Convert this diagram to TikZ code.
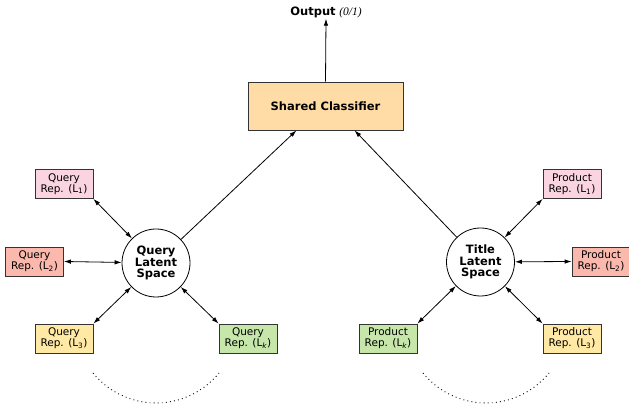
\documentclass[tikz,border=0pt]{standalone}
\usepackage{fontspec}
\setmainfont{DejaVu Sans}
\newfontfamily\outfont{Liberation Serif}
\usetikzlibrary{arrows.meta}
\definecolor{repone}{HTML}{FAD4E0}
\definecolor{reptwo}{HTML}{FBB8AC}
\definecolor{repthree}{HTML}{FFE9A5}
\definecolor{repk}{HTML}{C6E6AA}
\definecolor{clforange}{HTML}{FFDCA5}
\colorlet{boxline}{black!80}

\begin{document}
\begin{tikzpicture}[x=1pt,y=1pt,
    tip/.style={-{Latex[length=7pt,width=4.5pt]}},
    dtip/.style={{Latex[length=7pt,width=4.5pt]}-{Latex[length=7pt,width=4.5pt]}},
    repbox/.style={draw=boxline, line width=0.8pt, minimum width=58pt, minimum height=29pt,
        inner sep=0pt, align=center, font=\fontsize{10.5}{11}\selectfont},
    space/.style={draw, circle, line width=0.8pt, minimum size=68pt, inner sep=0pt,
        align=center, font=\fontsize{11.5}{11.5}\selectfont\bfseries}]
    \useasboundingbox (0,0) rectangle (629,407);
    % classifier and output
    \node[draw=boxline, fill=clforange, line width=0.8pt, minimum width=155pt, minimum height=48pt,
        font=\fontsize{11.5}{12}\selectfont\bfseries] (clf) at (325.5,301) {Shared Classifier};
    \node[inner sep=1pt, font=\fontsize{11.5}{12}\selectfont] (out) at (326,395)
        {\textbf{Output} {\outfont\itshape (0/1)}};
    \draw[tip, line width=0.8pt] (clf.north) -- (out.south);
    % latent spaces
    \node[space] (qls) at (156,144) {Query\\Latent\\Space};
    \node[space] (tls) at (480.5,145) {Title\\Latent\\Space};
    \draw[tip, line width=0.8pt] (qls) -- (clf.220);
    \draw[tip, line width=0.8pt] (tls) -- (clf.320);
    % query side
    \node[repbox, fill=repone] (q1) at (64,223) {Query\\Rep. (L\textsubscript{1})};
    \node[repbox, fill=reptwo] (q2) at (34.5,145.5) {Query\\Rep. (L\textsubscript{2})};
    \node[repbox, fill=repthree] (q3) at (64,68.5) {Query\\Rep. (L\textsubscript{3})};
    \node[repbox, fill=repk] (qk) at (248,68.5) {Query\\Rep. (L\textsubscript{\itshape k})};
    % product side
    \node[repbox, fill=repone] (p1) at (572,223) {Product\\Rep. (L\textsubscript{1})};
    \node[repbox, fill=reptwo] (p2) at (601,145.5) {Product\\Rep. (L\textsubscript{2})};
    \node[repbox, fill=repthree] (p3) at (572,68.5) {Product\\Rep. (L\textsubscript{3})};
    \node[repbox, fill=repk] (pk) at (388,68.5) {Product\\Rep. (L\textsubscript{\itshape k})};
    \foreach \a/\b in {q1.south east/qls, q2.east/qls, q3.north east/qls, qk.north west/qls,
        p1.south west/tls, p2.west/tls, p3.north west/tls, pk.north east/tls}{
        \draw[dtip, line width=0.8pt] (\a) -- (\b);
    }
    % more layers
    \foreach \x in {156,486}{
        \draw[line width=0.9pt, dash pattern=on 0.9pt off 3.2pt] (\x,85) ++(219:81)
            arc[start angle=219, end angle=321, radius=81];
    }
\end{tikzpicture}
\end{document}
